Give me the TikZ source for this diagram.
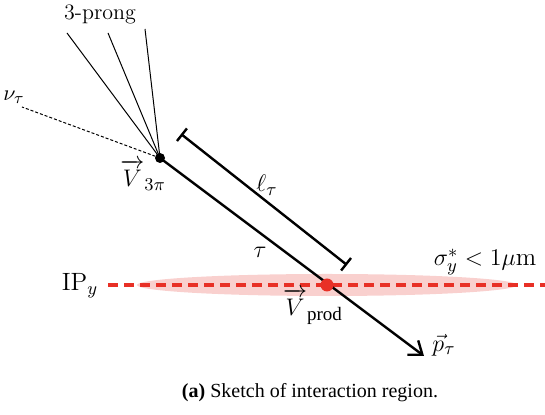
\documentclass[tikz,border=0pt]{standalone}
\usepackage{fontspec}
\newfontfamily\timesfont{Liberation Serif}
\usetikzlibrary{arrows.meta,calc}
\definecolor{ipred}{RGB}{232,48,38}
\definecolor{ippink}{RGB}{249,208,206}
\newcommand{\vecV}{\overrightarrow{\mkern1mu\rule{0pt}{10pt}V\mkern1mu}}
\begin{document}
\begin{tikzpicture}[x=0.5pt,y=-0.5pt,
  lbl/.style={inner sep=0pt, font=\fontsize{12.5}{15}\selectfont},
  thick line/.style={line width=1.2pt},
  prong/.style={line width=0.5pt},
  dot/.style={circle, inner sep=0pt, minimum size=#1}]
\useasboundingbox (0,0) rectangle (545,415);
% beam spot
\fill[ippink] (327,285) ellipse [x radius=190, y radius=11];
\coordinate (ipl) at (108,285);
\coordinate (ipr) at (545,285);
\draw[ipred, line width=1.6pt, dash pattern=on 5pt off 3pt] (ipl) -- (ipr);
% vertices
\node[dot=5pt, fill=black] (v3) at (160,158) {};
\coordinate (vpc) at (327,285);
% prongs
\coordinate (p1) at (67,33);
\coordinate (p2) at (108,33);
\coordinate (p3) at (145,29);
\draw[prong] (v3.center) -- (p1);
\draw[prong] (v3.center) -- (p2);
\draw[prong] (v3.center) -- (p3);
% neutrino
\coordinate (nu) at (22,107);
\draw[prong, dash pattern=on 1.5pt off 1pt] (v3.center) -- (nu);
% tau line
\coordinate (pend) at (424,356);
\draw[thick line, -{Straight Barb[length=6pt,width=9pt,line width=1.2pt]}] (v3.center) -- (pend);
\node[dot=6.5pt, fill=ipred] (vp) at (vpc) {};
% bracket
\coordinate (b1) at (181,134);
\coordinate (b2) at (347,265);
\draw[thick line, {Bar[width=8pt]}-{Bar[width=8pt]}] (b1) -- (b2);
% labels
\node[inner sep=0pt, font=\fontsize{11}{13}\selectfont] (tprong) at (100,14) {3-prong};
\node[lbl, font=\fontsize{11}{13}\selectfont] (tnu) at (14,97) {$\nu_\tau$};
\node[lbl] (tv3) at (143,175) {$\vecV_{3\pi}$};
\node[lbl] (tell) at (267,185) {$\ell_\tau$};
\node[lbl] (ttau) at (260,252) {$\tau$};
\node[lbl] (tip) at (80,286) {IP$_y$};
\node[lbl] (tsig) at (485,262) {$\sigma_y^* < 1\mu\mathrm{m}$};
\node[lbl] (tvp) at (313,307) {$\vecV_{\mbox{\timesfont\fontsize{9.5}{11}\selectfont prod}}$};
\node[lbl] (tp) at (444,345) {$\vec{p}_\tau$};
\node[inner sep=0pt, font=\timesfont\fontsize{10}{12}\selectfont] (cap) at (310,393) {\textbf{(a)} Sketch of interaction region.};
\end{tikzpicture}
\end{document}
